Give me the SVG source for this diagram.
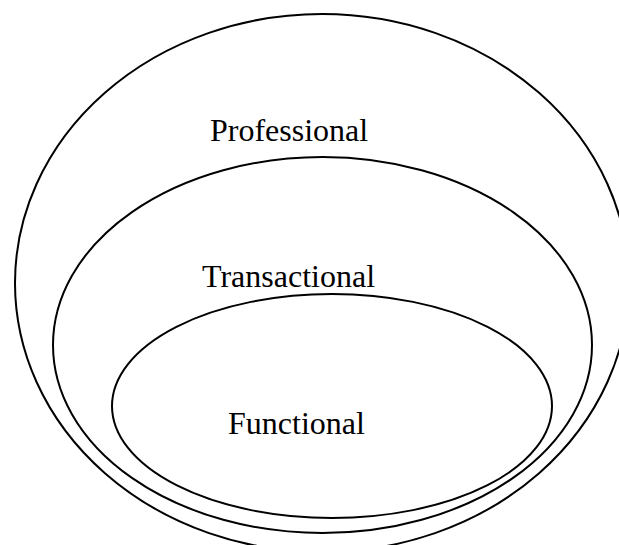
<svg xmlns="http://www.w3.org/2000/svg" width="619" height="545" viewBox="0 0 619 545">
<style>
.ring{fill:none;stroke:#000;stroke-width:2}
.lbl{font-family:"Liberation Serif","Times New Roman",serif;font-size:32px;fill:#000}
</style>
<rect width="619" height="545" fill="#fff"/>
<g id="professional">
<ellipse class="ring" cx="322" cy="283" rx="307" ry="269"/>
<text class="lbl" x="210" y="141">Professional</text>
</g>
<g id="transactional">
<ellipse class="ring" cx="322.5" cy="345" rx="269.5" ry="188"/>
<text class="lbl" x="202" y="287">Transactional</text>
</g>
<g id="functional">
<ellipse class="ring" cx="332" cy="406" rx="220" ry="112"/>
<text class="lbl" x="228" y="434">Functional</text>
</g>
<g id="connectors"/>
</svg>
